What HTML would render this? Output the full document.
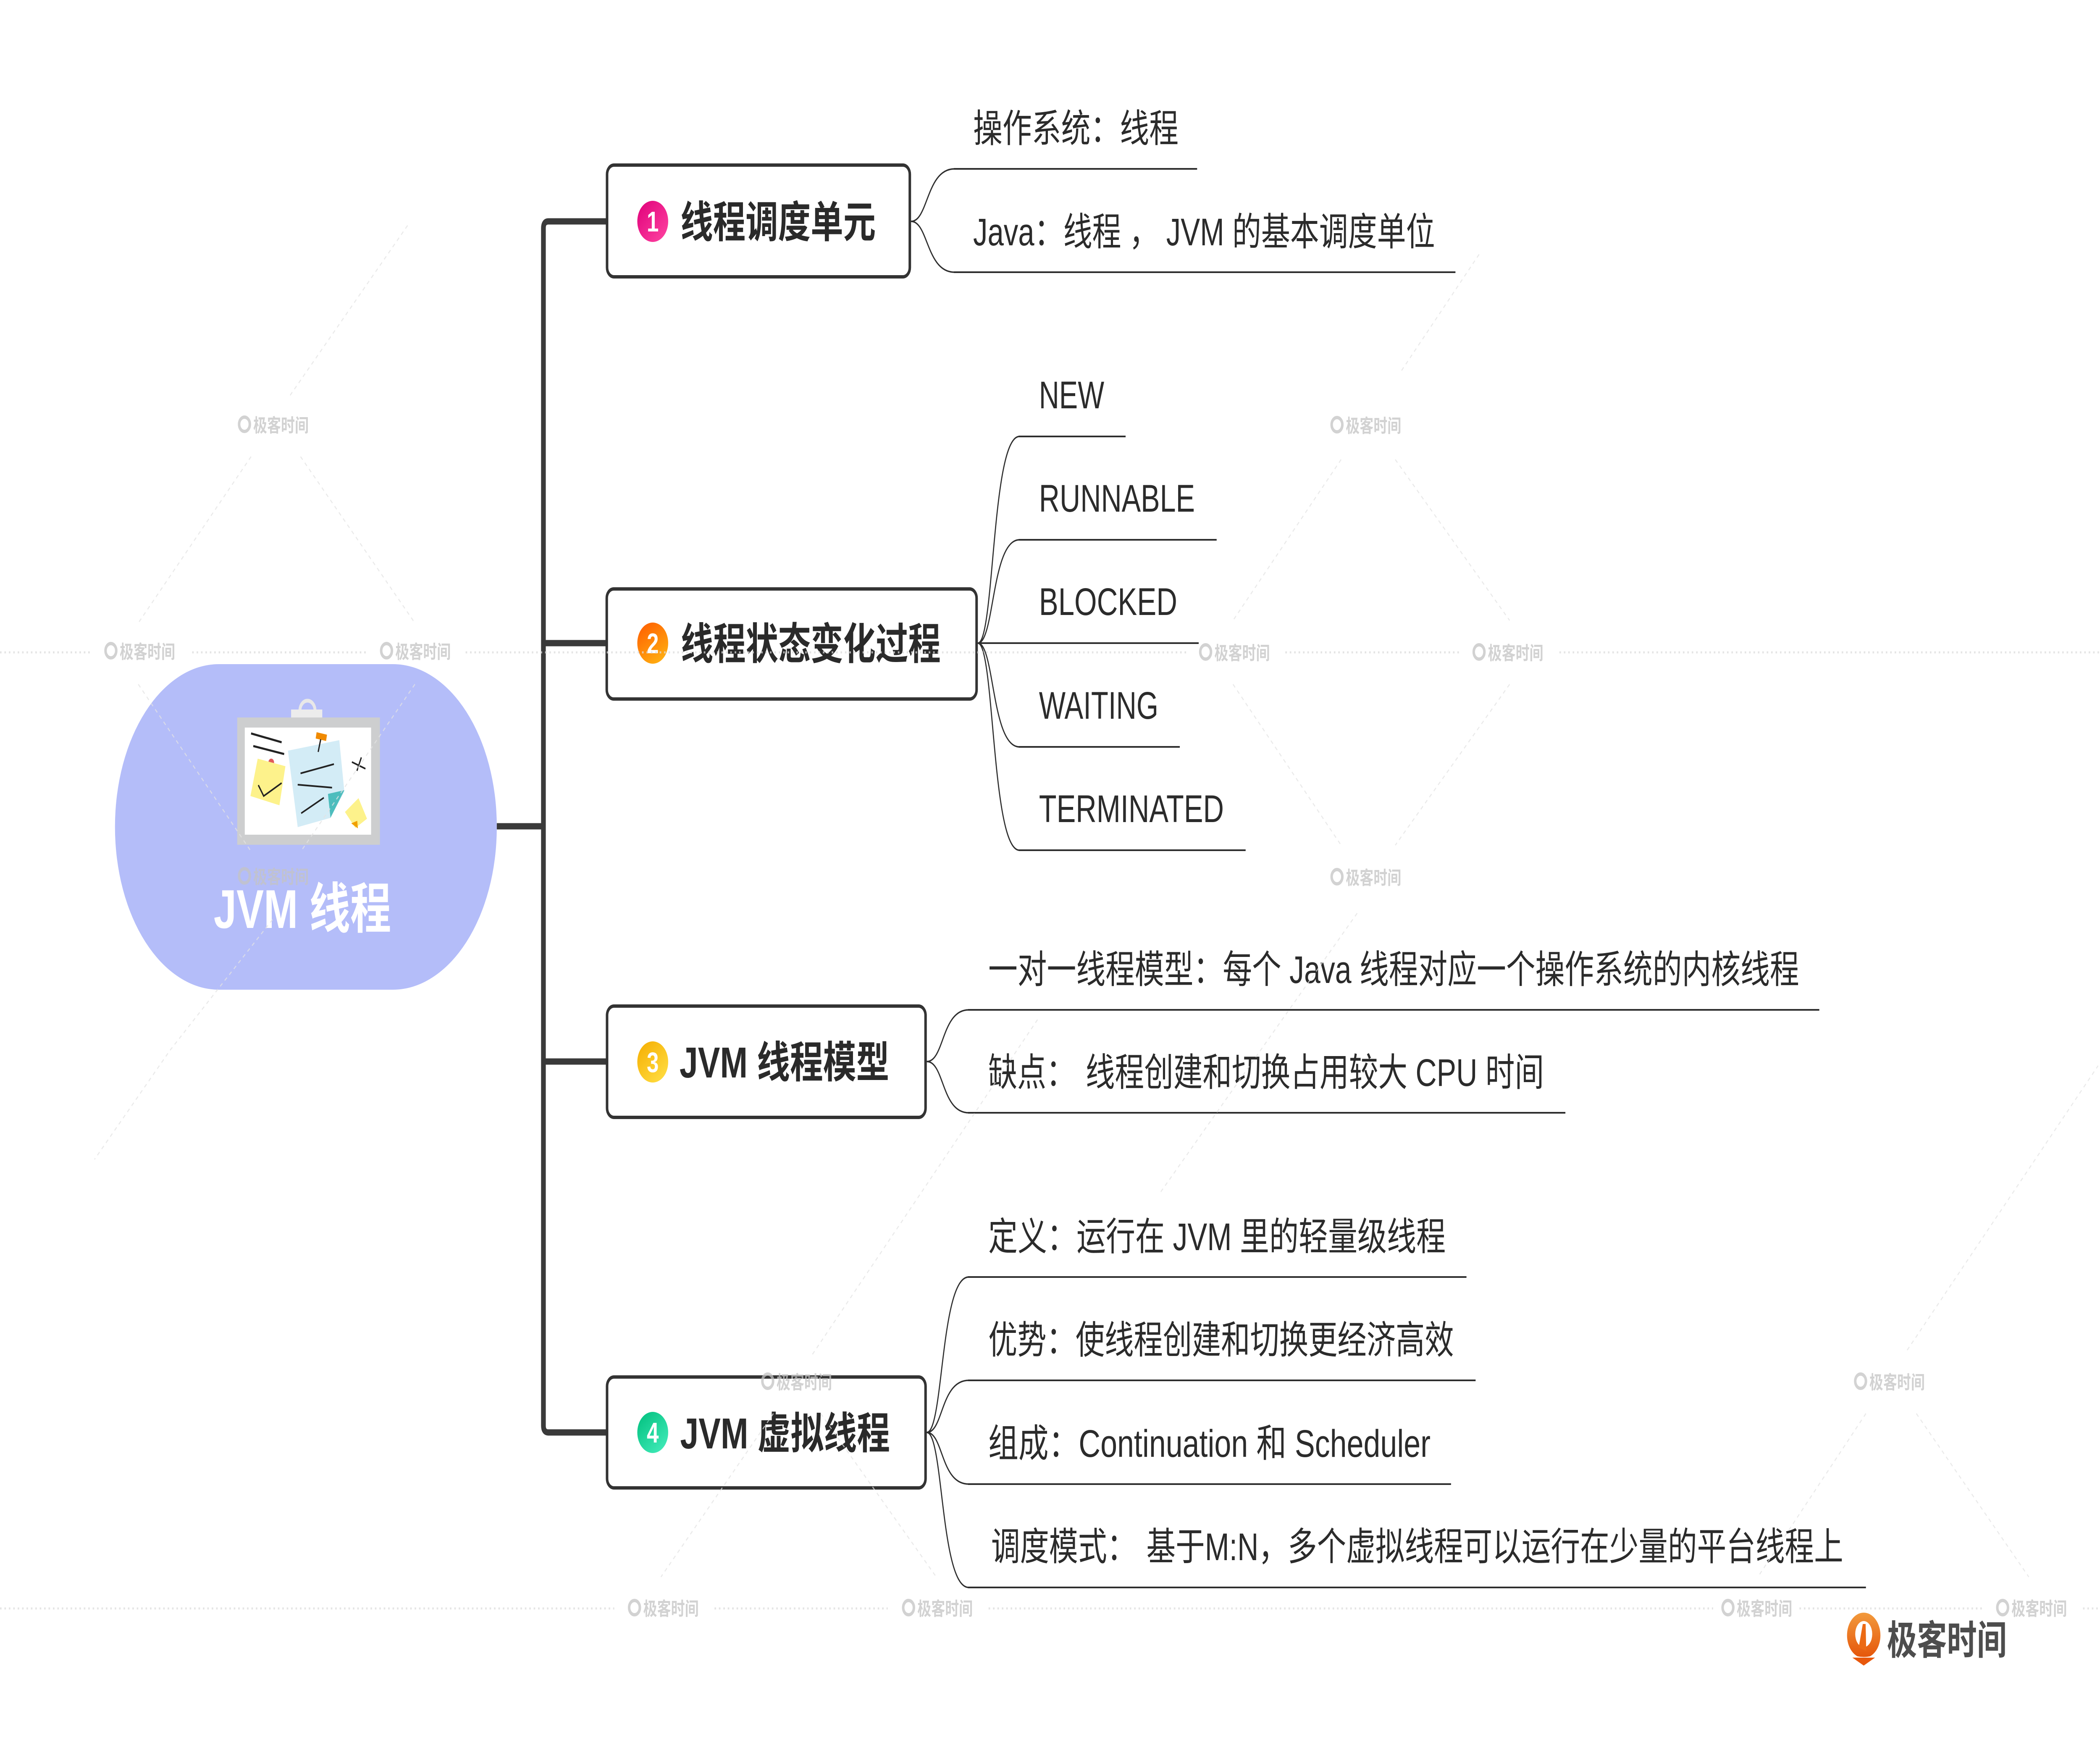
<!DOCTYPE html>
<html>
<head>
<meta charset="utf-8">
<style>
html,body{margin:0;padding:0;background:#fff;width:100%;height:100%;overflow:hidden;}
svg{display:block;position:fixed;left:0;top:0;width:100vw;height:100vh;}
text{font-family:"Liberation Sans","Noto Sans CJK SC",sans-serif;}
</style>
</head>
<body>
<svg viewBox="0 0 6666 4185" preserveAspectRatio="none" xmlns="http://www.w3.org/2000/svg">
<defs>
  <linearGradient id="g1" x1="0" y1="0" x2="1" y2="1"><stop offset="0" stop-color="#e0007a"/><stop offset="1" stop-color="#ff45a2"/></linearGradient>
  <linearGradient id="g2" x1="0" y1="0" x2="0.6" y2="1"><stop offset="0" stop-color="#ff5a00"/><stop offset="1" stop-color="#ffaa10"/></linearGradient>
  <linearGradient id="g3" x1="0" y1="0" x2="0.8" y2="1"><stop offset="0" stop-color="#f5ad00"/><stop offset="1" stop-color="#ffdc40"/></linearGradient>
  <linearGradient id="g4" x1="0" y1="0" x2="0.8" y2="1"><stop offset="0" stop-color="#00bf7d"/><stop offset="1" stop-color="#40eab8"/></linearGradient>
  <linearGradient id="gl" x1="0" y1="0" x2="0" y2="1"><stop offset="0" stop-color="#f29a3c"/><stop offset="1" stop-color="#e5550a"/></linearGradient>
</defs>

<rect x="0" y="0" width="6666" height="4185" fill="#ffffff"/>

<!-- Central node -->
<rect x="365" y="1581" width="1212" height="775" rx="330" ry="387" fill="#b4bdf9"/>

<!-- Clipboard icon -->
<g>
  <path d="M952 1692 A24 24 0 0 1 1000 1692" fill="none" stroke="#e8e8e8" stroke-width="9"/>
  <rect x="924" y="1689" width="99" height="28" fill="#ececec"/>
  <rect x="753" y="1708" width="453" height="303" fill="#cdcecf"/>
  <rect x="777" y="1732" width="401" height="255" fill="#ffffff"/>
  <line x1="797" y1="1746" x2="894" y2="1767" stroke="#222" stroke-width="5"/>
  <line x1="804" y1="1776" x2="902" y2="1795" stroke="#222" stroke-width="5"/>
  <circle cx="861" cy="1815" r="9" fill="#e05a5a"/>
  <polygon points="818,1806 906,1824 887,1917 795,1895" fill="#fdf28b"/>
  <polyline points="820,1869 837,1895 894,1864" fill="none" stroke="#222" stroke-width="4"/>
  <polygon points="914,1787 1077,1762 1093,1884 1049,1947 945,1969" fill="#d3ecf6"/>
  <polygon points="1093,1881 1041,1890 1049,1947" fill="#4dbdbd"/>
  <line x1="954" y1="1841" x2="1060" y2="1819" stroke="#222" stroke-width="4"/>
  <line x1="945" y1="1868" x2="1054" y2="1875" stroke="#222" stroke-width="4"/>
  <line x1="956" y1="1936" x2="1028" y2="1899" stroke="#222" stroke-width="4"/>
  <polygon points="1005,1743 1038,1749 1035,1764 1002,1758" fill="#f08a00"/>
  <line x1="1018" y1="1760" x2="1010" y2="1790" stroke="#222" stroke-width="4"/>
  <line x1="1117" y1="1814" x2="1160" y2="1830" stroke="#222" stroke-width="4"/>
  <line x1="1147" y1="1803" x2="1133" y2="1835" stroke="#222" stroke-width="4"/>
  <polygon points="1095,1933 1138,1900 1165,1949 1128,1971" fill="#fdf28b"/>
  <polygon points="1115,1960 1134,1954 1136,1972" fill="#f0a000"/>
</g>

<text x="960" y="2209" font-size="130" font-weight="bold" fill="#ffffff" text-anchor="middle">JVM 线程</text>

<!-- Trunk connectors -->
<g fill="none" stroke="#3a3a3a" stroke-width="15">
  <path d="M1925 527 H1741 Q1725 527 1725 543 V3394 Q1725 3410 1741 3410 H1925"/>
  <path d="M1725 1531 H1925"/>
  <path d="M1725 2527 H1925"/>
  <path d="M1577 1967 H1725"/>
</g>

<!-- Main boxes -->
<g fill="#ffffff" stroke="#333333" stroke-width="8">
  <rect x="1927" y="393" width="961" height="266" rx="22"/>
  <rect x="1926" y="1402" width="1174" height="262" rx="22"/>
  <rect x="1927" y="2395" width="1011" height="265" rx="22"/>
  <rect x="1927" y="3278" width="1011" height="264" rx="22"/>
</g>

<!-- Badges -->
<circle cx="2072" cy="527" r="49" fill="url(#g1)"/>
<circle cx="2072" cy="1531" r="49" fill="url(#g2)"/>
<circle cx="2072" cy="2528" r="49" fill="url(#g3)"/>
<circle cx="2072" cy="3410" r="49" fill="url(#g4)"/>
<g font-size="68" font-weight="bold" fill="#ffffff" text-anchor="middle">
  <text x="2072" y="551">1</text>
  <text x="2072" y="1555">2</text>
  <text x="2072" y="2552">3</text>
  <text x="2072" y="3434">4</text>
</g>

<!-- Box labels -->
<g font-size="103" font-weight="bold" fill="#2a2a2a">
  <text x="2160" y="565" textLength="620" lengthAdjust="spacingAndGlyphs">线程调度单元</text>
  <text x="2161" y="1569" textLength="825" lengthAdjust="spacingAndGlyphs">线程状态变化过程</text>
  <text x="2157" y="2565" textLength="666" lengthAdjust="spacingAndGlyphs">JVM 线程模型</text>
  <text x="2159" y="3448" textLength="666" lengthAdjust="spacingAndGlyphs">JVM 虚拟线程</text>
</g>

<!-- Child connectors -->
<g fill="none" stroke="#2e2e2e" stroke-width="3.5">
  <path d="M2892 527 C2947 527 2940 402 3030 402"/>
  <path d="M2892 527 C2947 527 2940 648 3030 648"/>
  <path d="M3104 1531 C3157 1531 3147 1039 3236 1039"/>
  <path d="M3104 1531 C3157 1531 3147 1285 3236 1285"/>
  <path d="M3104 1531 C3157 1531 3147 1778 3236 1778"/>
  <path d="M3104 1531 C3157 1531 3147 2024 3236 2024"/>
  <path d="M2942 2527 C2998 2527 2988 2404 3075 2404"/>
  <path d="M2942 2527 C2998 2527 2988 2649 3075 2649"/>
  <path d="M2942 3410 C2995 3410 2985 3040 3075 3040"/>
  <path d="M2942 3410 C2995 3410 2985 3286 3075 3286"/>
  <path d="M2942 3410 C2995 3410 2985 3533 3075 3533"/>
  <path d="M2942 3410 C2995 3410 2985 3779 3075 3779"/>
</g>
<g stroke="#2e2e2e" stroke-width="4">
  <line x1="3028" y1="402" x2="3800" y2="402"/>
  <line x1="3028" y1="648" x2="4620" y2="648"/>
  <line x1="3234" y1="1039" x2="3573" y2="1039"/>
  <line x1="3234" y1="1285" x2="3862" y2="1285"/>
  <line x1="3104" y1="1531" x2="3805" y2="1531"/>
  <line x1="3234" y1="1778" x2="3745" y2="1778"/>
  <line x1="3234" y1="2024" x2="3954" y2="2024"/>
  <line x1="3073" y1="2404" x2="5775" y2="2404"/>
  <line x1="3073" y1="2649" x2="4969" y2="2649"/>
  <line x1="3073" y1="3040" x2="4655" y2="3040"/>
  <line x1="3073" y1="3286" x2="4684" y2="3286"/>
  <line x1="3073" y1="3533" x2="4606" y2="3533"/>
  <line x1="3073" y1="3779" x2="5923" y2="3779"/>
</g>

<!-- Child labels -->
<g font-size="92" fill="#2b2b2b">
  <text x="3089" y="338" textLength="652" lengthAdjust="spacingAndGlyphs">操作系统：线程</text>
  <text x="3089" y="584" textLength="1466" lengthAdjust="spacingAndGlyphs">Java：线程 ， JVM 的基本调度单位</text>

  <text x="3298" y="972" textLength="207" lengthAdjust="spacingAndGlyphs">NEW</text>
  <text x="3298" y="1218" textLength="495" lengthAdjust="spacingAndGlyphs">RUNNABLE</text>
  <text x="3298" y="1464" textLength="439" lengthAdjust="spacingAndGlyphs">BLOCKED</text>
  <text x="3298" y="1711" textLength="379" lengthAdjust="spacingAndGlyphs">WAITING</text>
  <text x="3298" y="1957" textLength="587" lengthAdjust="spacingAndGlyphs">TERMINATED</text>

  <text x="3137" y="2340" textLength="2574" lengthAdjust="spacingAndGlyphs">一对一线程模型：每个 Java 线程对应一个操作系统的内核线程</text>
  <text x="3137" y="2585">缺点：</text>
  <text x="3446" y="2585" textLength="1455" lengthAdjust="spacingAndGlyphs">线程创建和切换占用较大 CPU 时间</text>

  <text x="3137" y="2976" textLength="1452" lengthAdjust="spacingAndGlyphs">定义：运行在 JVM 里的轻量级线程</text>
  <text x="3137" y="3222" textLength="1478" lengthAdjust="spacingAndGlyphs">优势：使线程创建和切换更经济高效</text>
  <text x="3137" y="3468" textLength="1404" lengthAdjust="spacingAndGlyphs">组成：Continuation 和 Scheduler</text>
  <text x="3146" y="3714">调度模式：</text>
  <text x="3639" y="3714" textLength="2212" lengthAdjust="spacingAndGlyphs">基于M:N，多个虚拟线程可以运行在少量的平台线程上</text>
</g>

<!-- Watermark overlay -->
<g opacity="0.75">
  <g fill="none" stroke="#dcdcdc" stroke-width="5" stroke-dasharray="5 9">
    <path d="M0 1553 H290 M610 1553 H1165 M1478 1553 H3765 M4080 1553 H4632 M4950 1553 H6666"/>
    <path d="M0 3829 H1950 M2268 3829 H2818 M3138 3829 H5438 M5712 3829 H6300 M6612 3829 H6666"/>
  </g>
  <g fill="none" stroke="#e3e3e3" stroke-width="3" stroke-dasharray="10 10">
    <path d="M797 1087 L439 1483 M954 1087 L1317 1483 M439 1629 L798 2028 M1317 1629 L954 2028"/>
    <path d="M4257 1094 L3914 1477 M4429 1094 L4792 1477 M3914 1629 L4257 2012 M4792 1629 L4429 2012"/>
    <path d="M2455 3365 L2098 3754 M2605 3365 L2972 3754"/>
    <path d="M5923 3365 L5580 3754 M6083 3365 L6440 3754"/>
    <path d="M921 941 L1300 530 M4449 882 L4700 600"/>
    <path d="M865 2189 L540 2500 L300 2760"/>
    <path d="M2579 3224 L3300 2420"/>
    <path d="M4308 2174 L3682 2840"/>
    <path d="M6054 3214 L6660 2537"/>
  </g>
  <g fill="#c4c4c4" font-size="44" font-weight="bold">
    <circle cx="776" cy="1010" r="17" fill="none" stroke="#c4c4c4" stroke-width="8"/><text x="804" y="1028">极客时间</text>
    <circle cx="4244" cy="1011" r="17" fill="none" stroke="#c4c4c4" stroke-width="8"/><text x="4272" y="1029">极客时间</text>
    <circle cx="352" cy="1549" r="17" fill="none" stroke="#c4c4c4" stroke-width="8"/><text x="380" y="1567">极客时间</text>
    <circle cx="1227" cy="1549" r="17" fill="none" stroke="#c4c4c4" stroke-width="8"/><text x="1255" y="1567">极客时间</text>
    <circle cx="3827" cy="1552" r="17" fill="none" stroke="#c4c4c4" stroke-width="8"/><text x="3855" y="1570">极客时间</text>
    <circle cx="4695" cy="1552" r="17" fill="none" stroke="#c4c4c4" stroke-width="8"/><text x="4723" y="1570">极客时间</text>
    <circle cx="776" cy="2085" r="17" fill="none" stroke="#c4c4c4" stroke-width="8"/><text x="804" y="2103">极客时间</text>
    <circle cx="4244" cy="2087" r="17" fill="none" stroke="#c4c4c4" stroke-width="8"/><text x="4272" y="2105">极客时间</text>
    <circle cx="2437" cy="3288" r="17" fill="none" stroke="#c4c4c4" stroke-width="8"/><text x="2465" y="3306">极客时间</text>
    <circle cx="5906" cy="3288" r="17" fill="none" stroke="#c4c4c4" stroke-width="8"/><text x="5934" y="3306">极客时间</text>
    <circle cx="2014" cy="3827" r="17" fill="none" stroke="#c4c4c4" stroke-width="8"/><text x="2042" y="3845">极客时间</text>
    <circle cx="2884" cy="3827" r="17" fill="none" stroke="#c4c4c4" stroke-width="8"/><text x="2912" y="3845">极客时间</text>
    <circle cx="5485" cy="3827" r="17" fill="none" stroke="#c4c4c4" stroke-width="8"/><text x="5513" y="3845">极客时间</text>
    <circle cx="6357" cy="3827" r="17" fill="none" stroke="#c4c4c4" stroke-width="8"/><text x="6385" y="3845">极客时间</text>
  </g>
</g>

<!-- Bottom-right logo -->
<g>
  <ellipse cx="5916" cy="3893" rx="53" ry="54" fill="url(#gl)"/>
  <ellipse cx="5916" cy="3890" rx="27" ry="31" fill="#ffffff"/>
  <polygon points="5913,3866 5922,3866 5924,3930 5900,3922" fill="#ec6a14"/>
  <path d="M5870 3940 Q5916 3955 5962 3940" fill="none" stroke="#ffffff" stroke-width="6"/>
  <polygon points="5880,3946 5952,3946 5916,3965" fill="#e8580c"/>
  <text x="5990" y="3938" font-size="95" font-weight="bold" fill="#4d4d4d" textLength="380" lengthAdjust="spacingAndGlyphs">极客时间</text>
</g>
</svg>
</body>
</html>
